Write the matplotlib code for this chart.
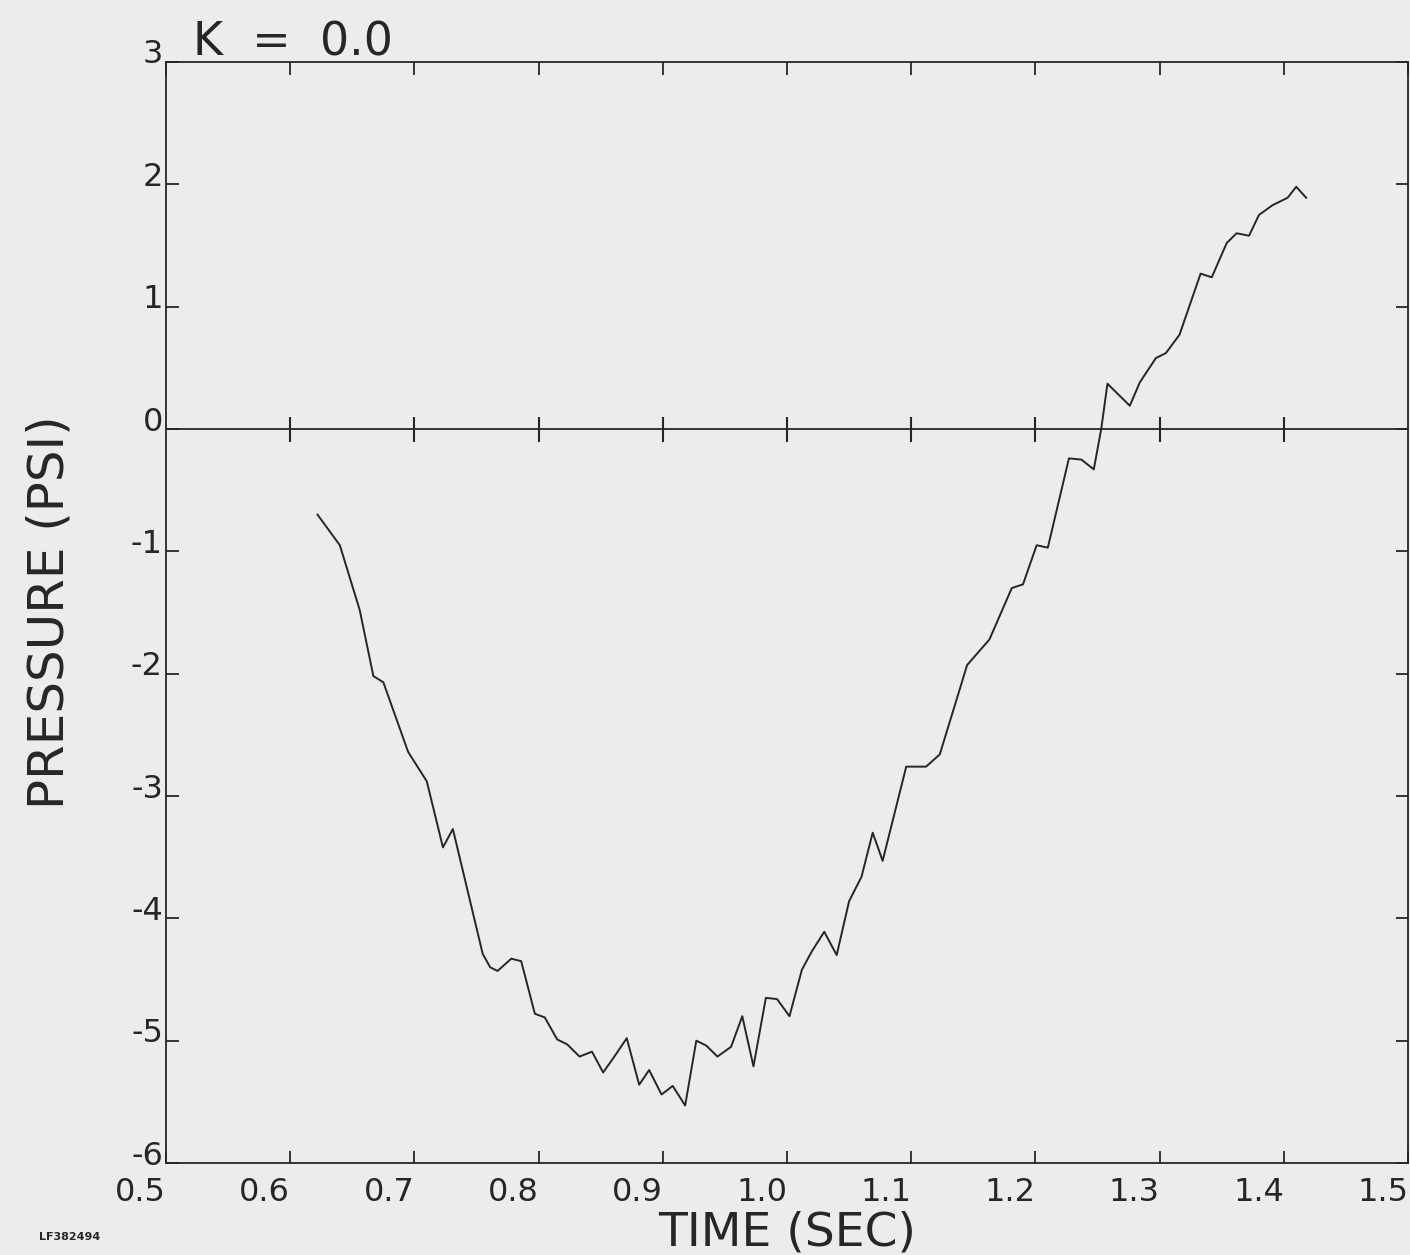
import matplotlib.pyplot as plt
import matplotlib.transforms as mtransforms
import numpy as np

# pressure trace
time_sec = [0.622, 0.640, 0.656, 0.667, 0.675, 0.695, 0.710, 0.723, 0.731, 0.755,
            0.761, 0.767, 0.778, 0.786, 0.797, 0.805, 0.815, 0.823, 0.833, 0.843,
            0.852, 0.861, 0.871, 0.881, 0.889, 0.899, 0.908, 0.918, 0.927, 0.935,
            0.944, 0.955, 0.964, 0.973, 0.983, 0.992, 1.002, 1.012, 1.020, 1.030,
            1.040, 1.050, 1.060, 1.069, 1.077, 1.096, 1.112, 1.123, 1.139, 1.145,
            1.163, 1.181, 1.190, 1.201, 1.210, 1.227, 1.237, 1.247, 1.253, 1.258,
            1.276, 1.284, 1.297, 1.305, 1.316, 1.333, 1.342, 1.354, 1.362, 1.372,
            1.380, 1.391, 1.403, 1.410, 1.418]
pressure = [-0.70, -0.95, -1.48, -2.02, -2.07, -2.64, -2.88, -3.42, -3.27, -4.29,
            -4.40, -4.43, -4.33, -4.35, -4.78, -4.81, -4.99, -5.03, -5.13, -5.09,
            -5.26, -5.13, -4.98, -5.36, -5.24, -5.44, -5.37, -5.53, -5.00, -5.04,
            -5.13, -5.05, -4.80, -5.21, -4.65, -4.66, -4.80, -4.42, -4.27, -4.11,
            -4.30, -3.86, -3.66, -3.30, -3.53, -2.76, -2.76, -2.66, -2.13, -1.93,
            -1.72, -1.30, -1.27, -0.95, -0.97, -0.24, -0.25, -0.33, 0.00, 0.37,
            0.19, 0.38, 0.58, 0.62, 0.77, 1.27, 1.24, 1.52, 1.60, 1.58,
            1.75, 1.83, 1.89, 1.98, 1.89]

xticks = [0.5, 0.6, 0.7, 0.8, 0.9, 1.0, 1.1, 1.2, 1.3, 1.4, 1.5]
xlabels = ['0.5', '0.6', '0.7', '0.8', '0.9', '1.0', '1.1', '1.2', '1.3', '1.4', '1.5']
yticks = [-6, -5, -4, -3, -2, -1, 0, 1, 2, 3]
ylabels = ['-6', '-5', '-4', '-3', '-2', '-1', '0', '1', '2', '3']

ink = '#262626'
paper = '#ececec'
plt.rcParams['font.family'] = ['DejaVu Sans']

fig = plt.figure(figsize=(14.1, 12.55), dpi=100, facecolor=paper)
ax = fig.add_axes([0.1177, 0.0733, 0.8809, 0.8773], facecolor=paper)

ax.plot(time_sec, pressure, color=ink, lw=1.4)

# zero line with crossing ticks
ax.axhline(0, color=ink, lw=1.3)
ax.plot(xticks[1:-1], np.zeros(len(xticks) - 2), ls='none', marker='|',
        markersize=18, markeredgewidth=1.5, color=ink)

ax.set_xlim(0.5, 1.5)
ax.set_ylim(-6, 3)
ax.set_xticks(xticks)
ax.set_xticklabels(xlabels)
ax.set_yticks(yticks)
ax.set_yticklabels([])
ax.tick_params(direction='in', length=9, width=1.3, colors=ink,
               top=True, right=True, labelsize=23)
ax.tick_params(axis='x', pad=10)
for lab in ax.get_xticklabels():
    lab.set_ha('right')
for sp in ax.spines.values():
    sp.set_color(ink)
    sp.set_linewidth(1.3)

# y labels sit a little above their ticks, like the plotter put them
ytrans = mtransforms.blended_transform_factory(ax.transAxes, ax.transData)
ytrans = ytrans + mtransforms.ScaledTranslation(-0.03, 0.07, fig.dpi_scale_trans)
for v, s in zip(yticks, ylabels):
    ax.text(0, v, s, transform=ytrans, ha='right', va='center',
            fontsize=23, color=ink)

ax.set_xlabel('TIME (SEC)', fontsize=34, color=ink, labelpad=2)
ax.set_ylabel('PRESSURE (PSI)', fontsize=36, color=ink, labelpad=63)
ax.text(0.022, 1.006, 'K  =  0.0', transform=ax.transAxes, fontsize=33,
        color=ink, ha='left', va='baseline')
fig.text(0.028, 0.012, 'LF382494', fontsize=8, fontweight='bold', color=ink)

fig.savefig('out.png', dpi=100, facecolor=paper)
